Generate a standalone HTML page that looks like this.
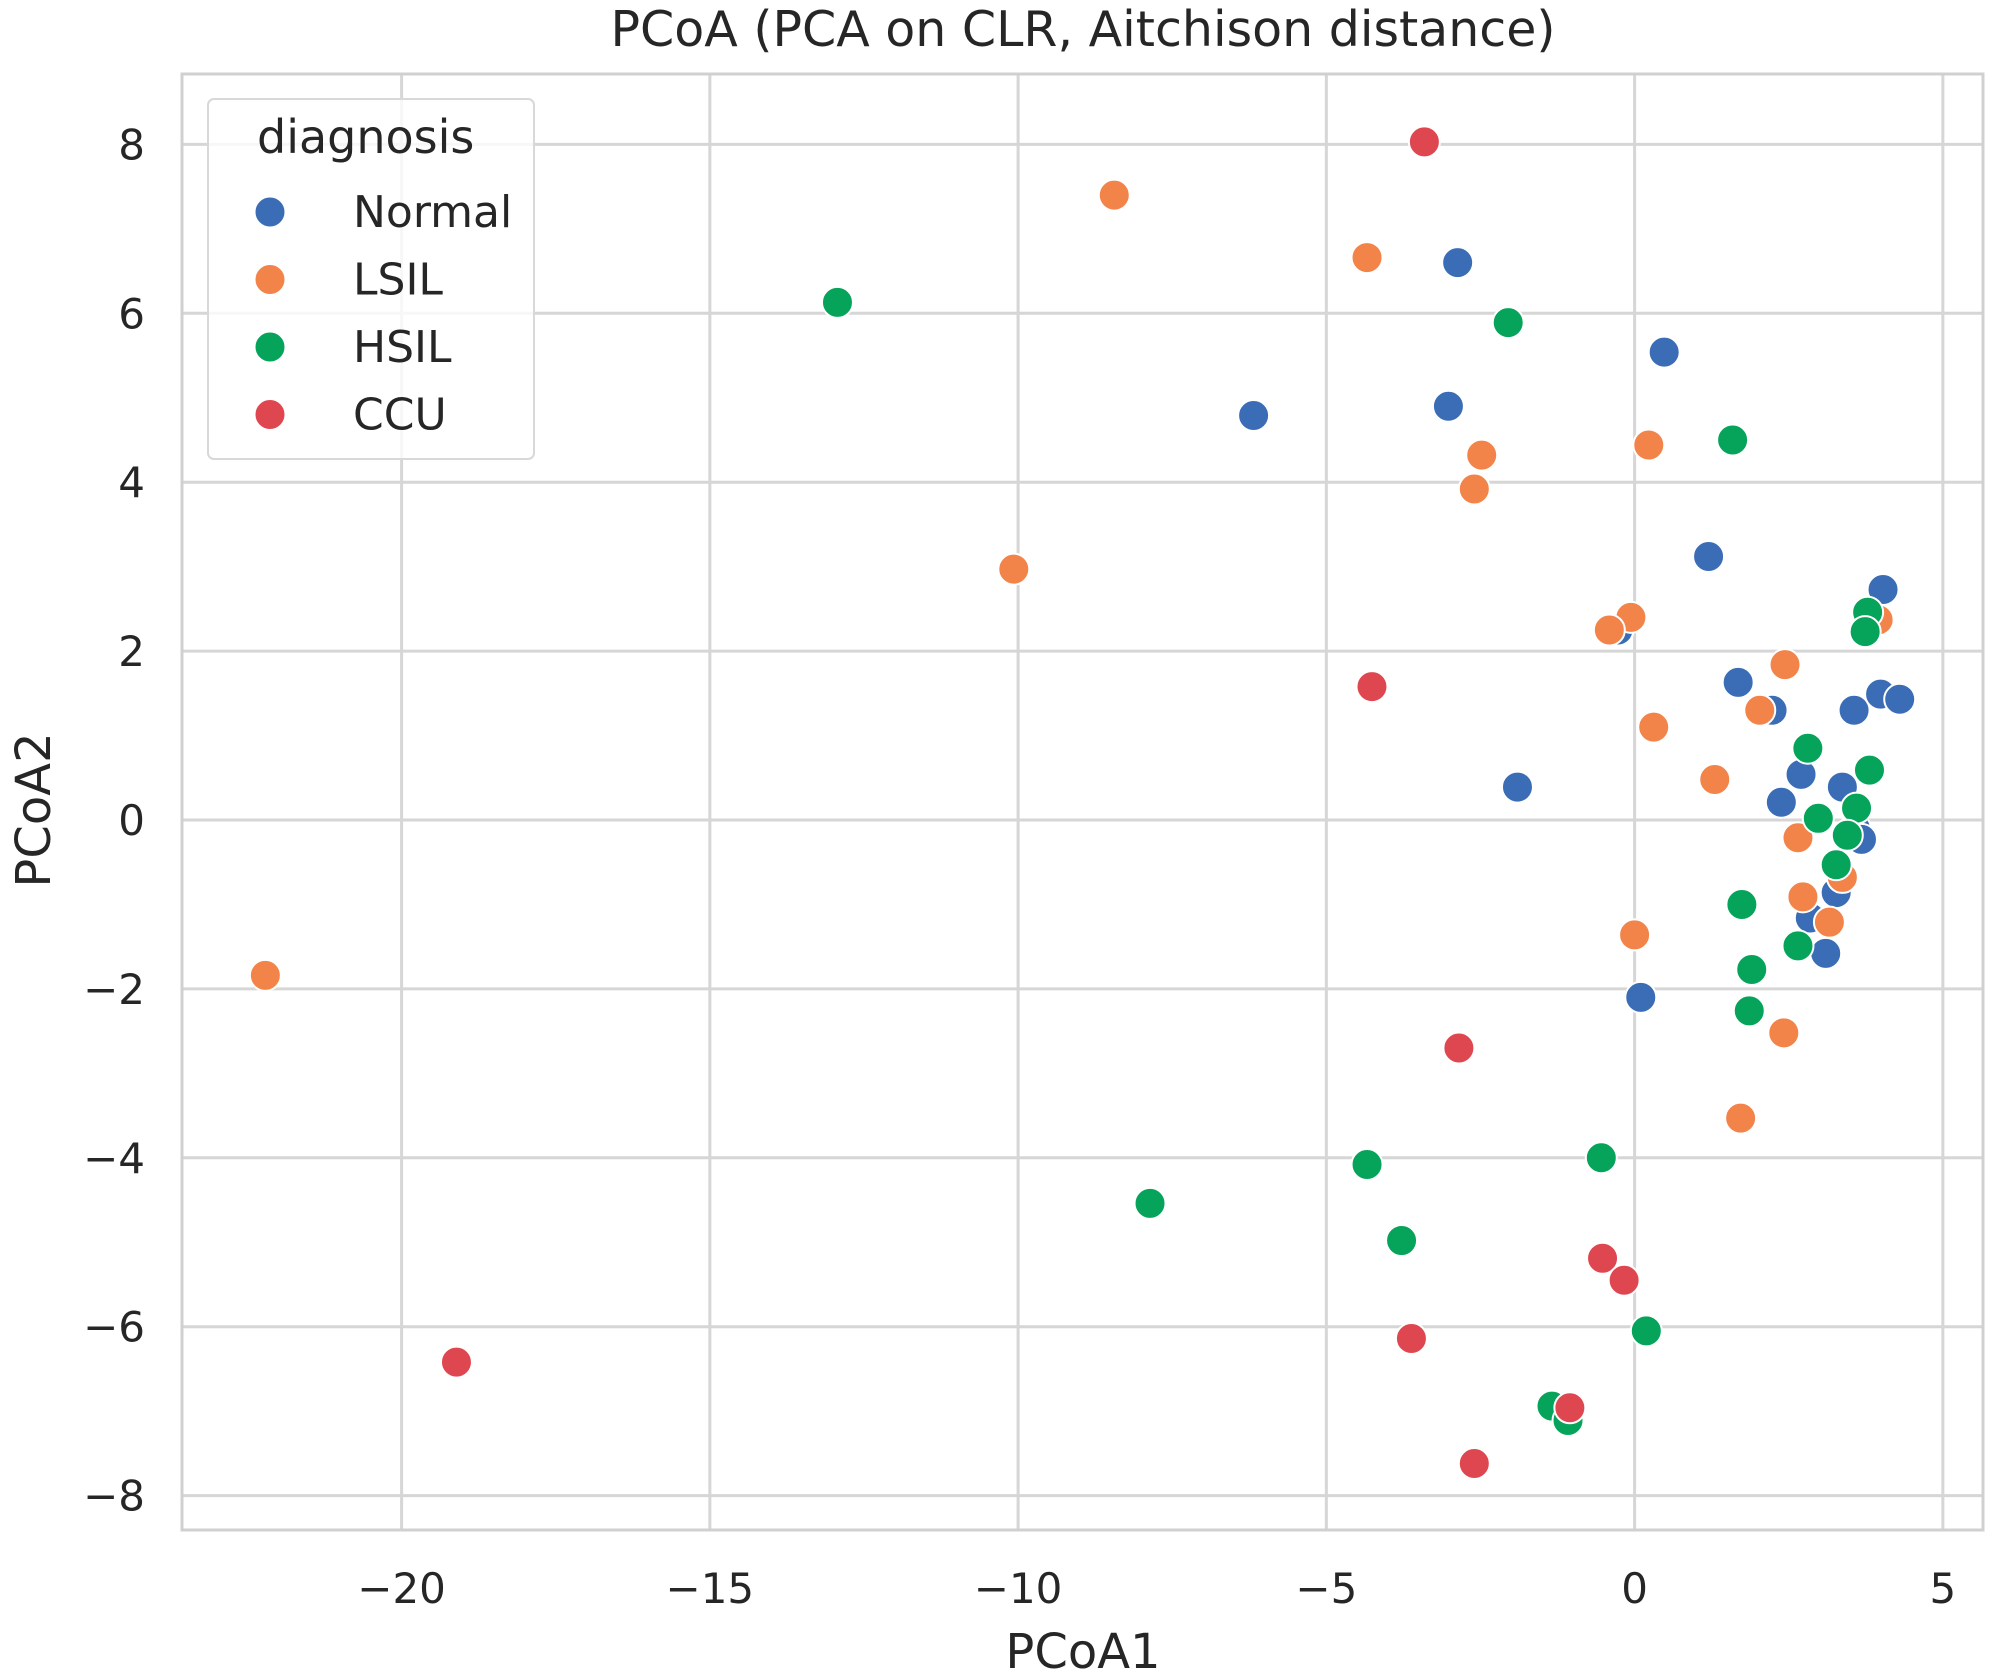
<!DOCTYPE html>
<html><head><meta charset="utf-8"><style>
html,body{margin:0;padding:0;background:#fff;}
svg{display:block;font-family:"DejaVu Sans","Liberation Sans",sans-serif;}
</style></head><body>
<svg id="chart" width="1989" height="1680" viewBox="0 0 1989 1680" xmlns="http://www.w3.org/2000/svg">
<rect x="0" y="0" width="1989" height="1680" fill="#fff"/>
<text x="1083" y="46" font-size="49" text-anchor="middle" fill="#262626">PCoA (PCA on CLR, Aitchison distance)</text>
<g id="grid"></g>
<g id="xticks"></g>
<g id="yticks"></g>
<rect x="182" y="74" width="1801" height="1456" fill="none" stroke="#d0d0d0" stroke-width="3"/>
<g id="points"></g>
<text x="1083" y="1668" font-size="48" text-anchor="middle" fill="#262626">PCoA1</text>
<text x="0" y="0" font-size="48" text-anchor="middle" fill="#262626" transform="translate(50,810) rotate(-90)">PCoA2</text>
<g id="legend">
<rect x="208" y="99" width="326" height="360" rx="6" fill="#fff" fill-opacity="0.8" stroke="#d8d8d8" stroke-width="2"/>
<text x="257" y="153" font-size="46" fill="#262626">diagnosis</text>
</g>
</svg>
<script>
const categories = ["Normal","LSIL","HSIL","CCU"];
const colors = ["#3a6db5","#f2844a","#05a45a","#df4750"];
const xTicks = [-20,-15,-10,-5,0,5];
const yTicks = [-8,-6,-4,-2,0,2,4,6,8];
const normalX = [-2.87,0.48,-6.18,-3.02,1.2,4.03,-0.27,1.68,2.23,3.56,3.99,4.3,-1.9,2.7,3.37,2.38,3.58,3.68,3.27,2.85,3.1,0.1];
const normalY = [6.6,5.54,4.79,4.9,3.12,2.73,2.25,1.63,1.3,1.3,1.49,1.43,0.39,0.54,0.39,0.21,-0.1,-0.23,-0.86,-1.16,-1.58,-2.1];
const lsilX = [-8.44,-4.34,-2.48,-2.6,0.23,-10.07,-0.06,-0.41,3.95,2.44,2.03,0.31,1.3,2.65,3.37,2.73,3.16,0,2.42,1.72,-22.21];
const lsilY = [7.4,6.66,4.32,3.92,4.44,2.97,2.4,2.25,2.37,1.84,1.3,1.1,0.48,-0.21,-0.68,-0.91,-1.21,-1.36,-2.52,-3.53,-1.84];
const hsilX = [-12.93,-2.05,1.59,3.78,3.74,2.81,3.81,3.6,2.98,3.45,3.27,1.74,2.65,1.9,1.86,-0.54,-4.34,-7.86,-3.78,0.19,-1.34,-1.08];
const hsilY = [6.13,5.89,4.5,2.46,2.23,0.85,0.59,0.14,0.02,-0.18,-0.53,-1.0,-1.49,-1.77,-2.26,-4.0,-4.08,-4.54,-4.98,-6.05,-6.94,-7.11];
const ccuX = [-3.41,-4.26,-2.85,-0.52,-0.17,-3.62,-19.11,-1.05,-2.6];
const ccuY = [8.03,1.58,-2.7,-5.19,-5.45,-6.14,-6.42,-6.96,-7.62];

const NS="http://www.w3.org/2000/svg";
function sx(v){return 1634.6 + v*61.65;}
function sy(v){return 820 - v*84.45;}
function mk(tag,attrs,parent){const e=document.createElementNS(NS,tag);for(const k in attrs)e.setAttribute(k,attrs[k]);parent.appendChild(e);return e;}
const grid=document.getElementById('grid'),xt=document.getElementById('xticks'),yt=document.getElementById('yticks');
xTicks.forEach(t=>{
  const l=mk('line',{x1:sx(t),x2:sx(t),y1:74,y2:1530,stroke:'#d6d6d6','stroke-width':3},grid);
  
  
  const tx=mk('text',{x:sx(t),y:1603,'font-size':42,'text-anchor':'middle',fill:'#262626'},xt);
  tx.textContent=(t<0?'\u2212'+(-t):t);
  
  
});
yTicks.forEach(t=>{
  const l=mk('line',{x1:182,x2:1983,y1:sy(t),y2:sy(t),stroke:'#d6d6d6','stroke-width':3},grid);
  
  
  const tx=mk('text',{x:145,y:sy(t)+15,'font-size':42,'text-anchor':'end',fill:'#262626'},yt);
  tx.textContent=(t<0?'\u2212'+(-t):t);
  
  
});
const pts=document.getElementById('points');
const series=[[normalX,normalY],[lsilX,lsilY],[hsilX,hsilY],[ccuX,ccuY]];
series.forEach((s,i)=>{
  const g=mk('g',{},pts);
  
  
  s[0].forEach((xv,j)=>{
    const c=mk('circle',{cx:sx(xv),cy:sy(s[1][j]),r:15.5,fill:colors[i],stroke:'#fff','stroke-width':2},g);
    
    
  });
});
const lg=document.getElementById('legend');
categories.forEach((c,i)=>{
  const y=212+i*67.5;
  const g=mk('g',{},lg);
  
  
  mk('circle',{cx:270,cy:y,r:15.5,fill:colors[i],stroke:'#fff','stroke-width':2},g);
  const t=mk('text',{x:353,y:y+15,'font-size':44,fill:'#262626'},g);
  t.textContent=c;
});
</script>
</body></html>
